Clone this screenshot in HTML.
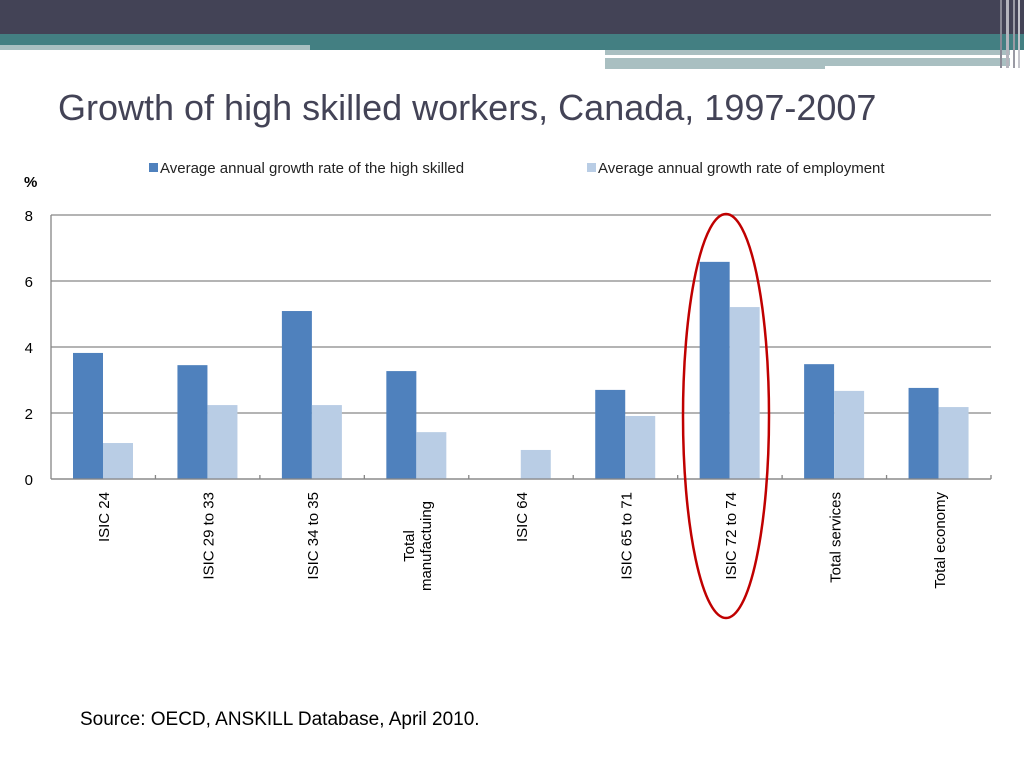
<!DOCTYPE html>
<html><head><meta charset="utf-8"><style>
body{margin:0;width:1024px;height:768px;background:#fff;overflow:hidden;font-family:"Liberation Sans",sans-serif}
</style></head><body>
<svg width="1024" height="768" viewBox="0 0 1024 768" xmlns="http://www.w3.org/2000/svg" font-family="Liberation Sans, sans-serif">
<g>
<rect x="0" y="0" width="1024" height="35" fill="#434356"/>
<rect x="0" y="34" width="1024" height="11" fill="#437f82"/>
<rect x="0" y="45" width="310" height="5" fill="#a9bfc1"/>
<rect x="310" y="45" width="714" height="5" fill="#437f82"/>
<rect x="605" y="50" width="405" height="5" fill="#a9bfc1"/>
<rect x="605" y="58" width="405" height="11" fill="#a9bfc1"/>
<rect x="605" y="55" width="345" height="3" fill="#fff"/>
<rect x="825" y="66" width="185" height="3" fill="#fff"/>
<rect x="1000" y="0" width="2" height="68" fill="#8a8a96"/>
<rect x="1006" y="0" width="3" height="68" fill="#b5b5bd"/>
<rect x="1013" y="0" width="2" height="68" fill="#9a9aa4"/>
<rect x="1018" y="0" width="2" height="68" fill="#c5c5cc"/>
</g>
<text x="58" y="120" font-size="36" fill="#434356">Growth of high skilled workers, Canada, 1997-2007</text>
<g font-size="15" fill="#222">
<rect x="149" y="163" width="9" height="9" fill="#4f81bd"/>
<text x="160" y="173">Average annual growth rate of the high skilled</text>
<rect x="587" y="163" width="9" height="9" fill="#b9cde5"/>
<text x="598" y="173">Average annual growth rate of employment</text>
</g>
<text x="24" y="187" font-size="15" font-weight="bold" fill="#000">%</text>
<g id="chart"></g>
<ellipse cx="726" cy="416" rx="43" ry="202" fill="none" stroke="#c00000" stroke-width="2.5"/>
<text x="80" y="725" font-size="19" fill="#000">Source: OECD, ANSKILL Database, April 2010.</text>
</svg>
<script>
const categories = [["ISIC 24"],["ISIC 29 to 33"],["ISIC 34 to 35"],["Total","manufactuing"],["ISIC 64"],["ISIC 65 to 71"],["ISIC 72 to 74"],["Total services"],["Total economy"]];
const highSkilled = [3.82, 3.45, 5.09, 3.27, 0, 2.7, 6.58, 3.48, 2.76];
const employment = [1.09, 2.24, 2.24, 1.42, 0.88, 1.91, 5.21, 2.67, 2.18];
const yTicks = [0, 2, 4, 6, 8];

const NS = "http://www.w3.org/2000/svg";
const g = document.getElementById('chart');
const L = 51, R = 991, T = 215, B = 479, yMax = 8;
const y = v => B - (v / yMax) * (B - T);
const cw = (R - L) / categories.length;
const xc = i => L + cw * i;
function mk(tag, attrs) { const e = document.createElementNS(NS, tag); for (const k in attrs) e.setAttribute(k, attrs[k]); g.appendChild(e); return e; }

yTicks.forEach(t => {
  const ln = mk('line', {x1: L, x2: R, y1: y(t), y2: y(t), stroke: '#868686', 'stroke-width': 1.3});
  
  
  const tx = mk('text', {x: 33, y: y(t) + 6, 'font-size': 15, 'text-anchor': 'end', fill: '#000'});
  tx.textContent = t;
  
  
});
const ax = mk('line', {x1: L, x2: L, y1: T, y2: B, stroke: '#868686', 'stroke-width': 1.3});



categories.forEach((c, i) => {
  const x0 = xc(i) + 22;
  const b1 = mk('rect', {x: x0, y: y(highSkilled[i]), width: 30, height: B - y(highSkilled[i]), fill: '#4f81bd'});
  
  
  const b2 = mk('rect', {x: x0 + 30, y: y(employment[i]), width: 30, height: B - y(employment[i]), fill: '#b9cde5'});
  
  
  const tk = mk('line', {x1: xc(i + 1), x2: xc(i + 1), y1: B - 4, y2: B, stroke: '#868686', 'stroke-width': 1.3});
  
  
  const cx = xc(i) + cw / 2;
  c.forEach((line, j) => {
    const lx = cx + 6 + (j - (c.length - 1) / 2) * 17;
    const t = mk('text', {x: 0, y: 0, 'font-size': 15, 'text-anchor': c.length > 1 ? 'middle' : 'end', fill: '#000',
      transform: `translate(${lx},${c.length > 1 ? 546 : 492}) rotate(-90)`});
    t.textContent = line;
    
    
  });
});
const xa = mk('line', {x1: L, x2: R, y1: B, y2: B, stroke: '#868686', 'stroke-width': 1.3});


</script>
</body></html>
